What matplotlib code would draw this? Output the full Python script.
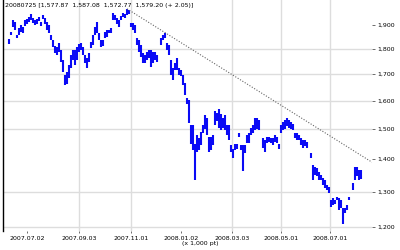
import numpy as np
import matplotlib
matplotlib.use("Agg")
import matplotlib.pyplot as plt

# daily high / low (nan = no bar)
nan = np.nan
highs = [1841, 1871, 1923, 1912, 1858, 1888, 1901, 1893, 1923, 1927,
         1936, 1950, 1931, 1923, 1927, 1936, 1912, 1945, 1931, 1912,
         1901, 1858, 1837, 1812, 1808, 1825, 1796, 1756, 1697, 1708,
         1736, 1775, 1796, 1796, 1808, 1820, 1825, 1808, 1775, 1763,
         1784, 1829, 1858, 1893, 1912, 1867, 1837, 1837, 1871, 1880,
         1880, 1888, 1954, 1945, 1931, 1923, 1940, 1954, 1950, 1972,
         1967, 1910, 1910, 1901, 1845, 1837, 1816, 1784, 1775, 1788,
         1796, 1796, 1788, 1788, 1775, nan, 1845, 1858, 1867, 1825,
         1816, 1756, 1724, 1744, 1763, 1724, 1716, 1697, 1666, 1610,
         1603, 1514, 1514, 1450, 1480, 1470, 1490, 1514, 1549, 1538,
         1473, 1473, 1480, 1563, 1556, 1570, 1552, 1538, 1549, 1514,
         1514, 1446, 1433, 1450, 1450, 1487, 1446, 1446, 1446, 1480,
         1487, 1504, 1514, 1538, 1538, 1531, nan, 1470, 1463, 1473,
         1473, 1470, 1470, 1480, 1473, 1450, 1514, 1524, 1531, 1538,
         1531, 1524, 1517, 1487, 1487, 1480, 1470, 1463, 1463, 1456,
         nan, 1420, 1382, 1376, 1373, 1360, 1351, 1341, 1335, 1320,
         1314, 1276, 1282, 1276, 1285, 1282, 1276, 1252, 1252, 1261,
         1285, nan, 1326, 1376, 1376, 1366, 1366]
lows = [1820, 1858, 1893, 1880, 1845, 1858, 1871, 1867, 1897, 1905,
        1914, 1923, 1910, 1901, 1905, 1918, 1897, 1927, 1905, 1880,
        1867, 1837, 1808, 1784, 1775, 1788, 1747, 1708, 1658, 1661,
        1686, 1724, 1756, 1736, 1756, 1788, 1796, 1775, 1744, 1724,
        1747, 1804, 1816, 1858, 1867, 1837, 1808, 1812, 1845, 1850,
        1867, 1867, 1923, 1923, 1905, 1893, 1923, 1936, 1931, 1945,
        1950, 1893, 1880, 1867, 1816, 1788, 1768, 1744, 1744, 1756,
        1763, 1728, 1744, 1756, 1747, nan, 1816, 1837, 1845, 1796,
        1775, 1697, 1677, 1716, 1716, 1697, 1693, 1658, 1621, 1588,
        1520, 1450, 1430, 1335, 1423, 1430, 1446, 1487, 1500, 1480,
        1423, 1430, 1446, 1514, 1527, 1504, 1497, 1504, 1497, 1480,
        1463, 1423, 1404, 1430, 1433, 1473, 1430, 1363, 1420, 1453,
        1453, 1480, 1487, 1497, 1500, 1497, nan, 1436, 1423, 1453,
        1456, 1453, 1446, 1456, 1453, 1433, 1487, 1497, 1500, 1510,
        1504, 1500, 1497, 1470, 1463, 1463, 1446, 1436, 1443, 1436,
        nan, 1404, 1335, 1351, 1348, 1335, 1335, 1320, 1311, 1305,
        1296, 1255, 1261, 1264, 1276, 1247, 1252, 1208, 1238, 1247,
        1276, nan, 1305, 1335, 1348, 1335, 1338]

# date axis (bar index -> label)
tick_idx = [9, 35, 61, 86, 111.5, 136, 160.5]
tick_labels = ["2007.07.02", "2007.09.03", "2007.11.01", "2008.01.02",
               "2008.03.03", "2008.05.01", "2008.07.01"]
grid_idx = [35, 61, 111.5, 136, 160.5]

y_ticks = [1200, 1300, 1400, 1500, 1600, 1700, 1800, 1900]
grid_vals = [1200, 1300, 1500, 1600, 1700, 1800]

# resistance line: through the Nov peak and the Dec high
trend_idx = [59, 78]
trend_val = [1972, 1868]

title = "20080725 [1,577.87  1,587.08  1,572.77  1,579.20 (+ 2.05)]"
unit_text = "(x 1,000 pt)"

x = np.arange(len(highs))
hi = np.array(highs, dtype=float)
lo = np.array(lows, dtype=float)

fig = plt.figure(figsize=(4, 2.5), dpi=100)
ax = fig.add_axes([0.0075, 0.076, 0.9225, 0.924])
ax.set_yscale("log")
ax.set_xlim(-3, 181.5)
ax.set_ylim(1189, 2012)

# grid (only some ticks get a line, like the original)
for v in grid_vals:
    ax.axhline(v, color="#dddddd", lw=1.0, zorder=0)
for g in grid_idx:
    ax.axvline(g, color="#dddddd", lw=1.0, zorder=0)

# high-low bars
ok = ~np.isnan(hi)
ax.vlines(x[ok], lo[ok], hi[ok], color="#0a0af5", lw=1.5, zorder=2)

# trend line, extended to the right edge (straight on log scale)
ti = np.array(trend_idx, dtype=float)
tv = np.log(trend_val)
slope = (tv[1] - tv[0]) / (ti[1] - ti[0])
x_end = ax.get_xlim()[1]
ax.plot([ti[0], x_end], np.exp([tv[0], tv[0] + slope * (x_end - ti[0])]),
        color="#666666", lw=0.8, ls=(0, (1, 1.5)), zorder=3)

# axes styling
for s in ["top", "right", "bottom"]:
    ax.spines[s].set_visible(False)
ax.spines["left"].set_color("black")
ax.spines["left"].set_linewidth(1.0)

ax.yaxis.tick_right()
ax.set_yticks(y_ticks)
ax.set_yticklabels([f"{v:,}" for v in y_ticks])
ax.yaxis.set_minor_locator(matplotlib.ticker.NullLocator())
ax.tick_params(axis="y", which="major", length=2, width=0.6, color="#555555",
               labelsize=4.5, pad=1.5)
ax.set_xticks(tick_idx)
ax.set_xticklabels(tick_labels)
ax.tick_params(axis="x", length=1.5, width=0.6, color="#555555",
               labelsize=4.5, pad=2)

ax.text(0.006, 0.985, title, transform=ax.transAxes, fontsize=4.5,
        va="top", ha="left")
fig.text(0.5, 0.015, unit_text, fontsize=4.5, ha="center", va="bottom")

fig.savefig("out.png", dpi=100)
